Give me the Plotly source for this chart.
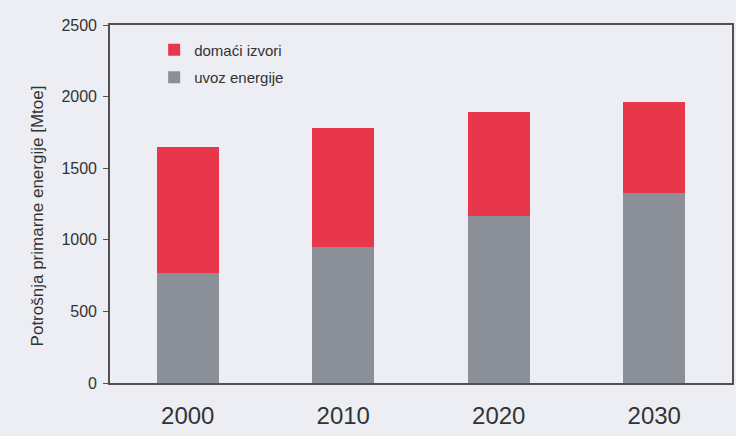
import plotly.graph_objects as go

# Primary energy consumption, split into imports and domestic sources [Mtoe]
years = ["2000", "2010", "2020", "2030"]
uvoz_energije = [770, 947, 1168, 1329]
domaci_izvori = [878, 832, 722, 632]

BG = "#eceef4"
AXIS = "#505050"
TEXT = "#333333"
FONT = "Liberation Sans, Arial, sans-serif"

fig = go.Figure()
fig.add_trace(go.Bar(
    x=years, y=uvoz_energije, name="uvoz energije",
    legendgroup="uvoz", legendrank=2,
    marker=dict(color="#8b8f97", line=dict(width=0)), width=0.4,
))
fig.add_trace(go.Bar(
    x=years, y=domaci_izvori, name="domaći izvori",
    legendgroup="domaci", legendrank=1,
    marker=dict(color="#e8364a", line=dict(width=0)), width=0.4,
))

fig.update_layout(
    width=736, height=436,
    barmode="stack",
    paper_bgcolor=BG, plot_bgcolor=BG,
    margin=dict(l=110, r=2, t=25, b=53),
    font=dict(family=FONT, color=TEXT),
    showlegend=True,
    legend=dict(
        traceorder="grouped",
        x=0.071, y=0.976, xanchor="left", yanchor="top",
        bgcolor="rgba(0,0,0,0)",
        font=dict(size=15, color=TEXT),
        tracegroupgap=5, itemwidth=30,
    ),
    xaxis=dict(
        type="category",
        showline=True, linecolor=AXIS, linewidth=1.6, mirror=True,
        ticks="", tickfont=dict(size=24, color=TEXT), ticklabelstandoff=10,
        showgrid=False, zeroline=False,
    ),
    yaxis=dict(
        range=[0, 2500], tickvals=[0, 500, 1000, 1500, 2000, 2500],
        showline=True, linecolor=AXIS, linewidth=1.6, mirror=True,
        ticks="outside", ticklen=5, tickcolor=AXIS, tickwidth=1,
        tickfont=dict(size=16, color=TEXT), ticklabelstandoff=3,
        showgrid=False, zeroline=False,
    ),
    annotations=[dict(
        text="Potrošnja primarne energije [Mtoe]",
        xref="paper", yref="paper", x=-0.117, y=0.466,
        xanchor="center", yanchor="middle", textangle=-90,
        showarrow=False, font=dict(size=17, color=TEXT),
    )],
)

fig.write_html("out.html")
